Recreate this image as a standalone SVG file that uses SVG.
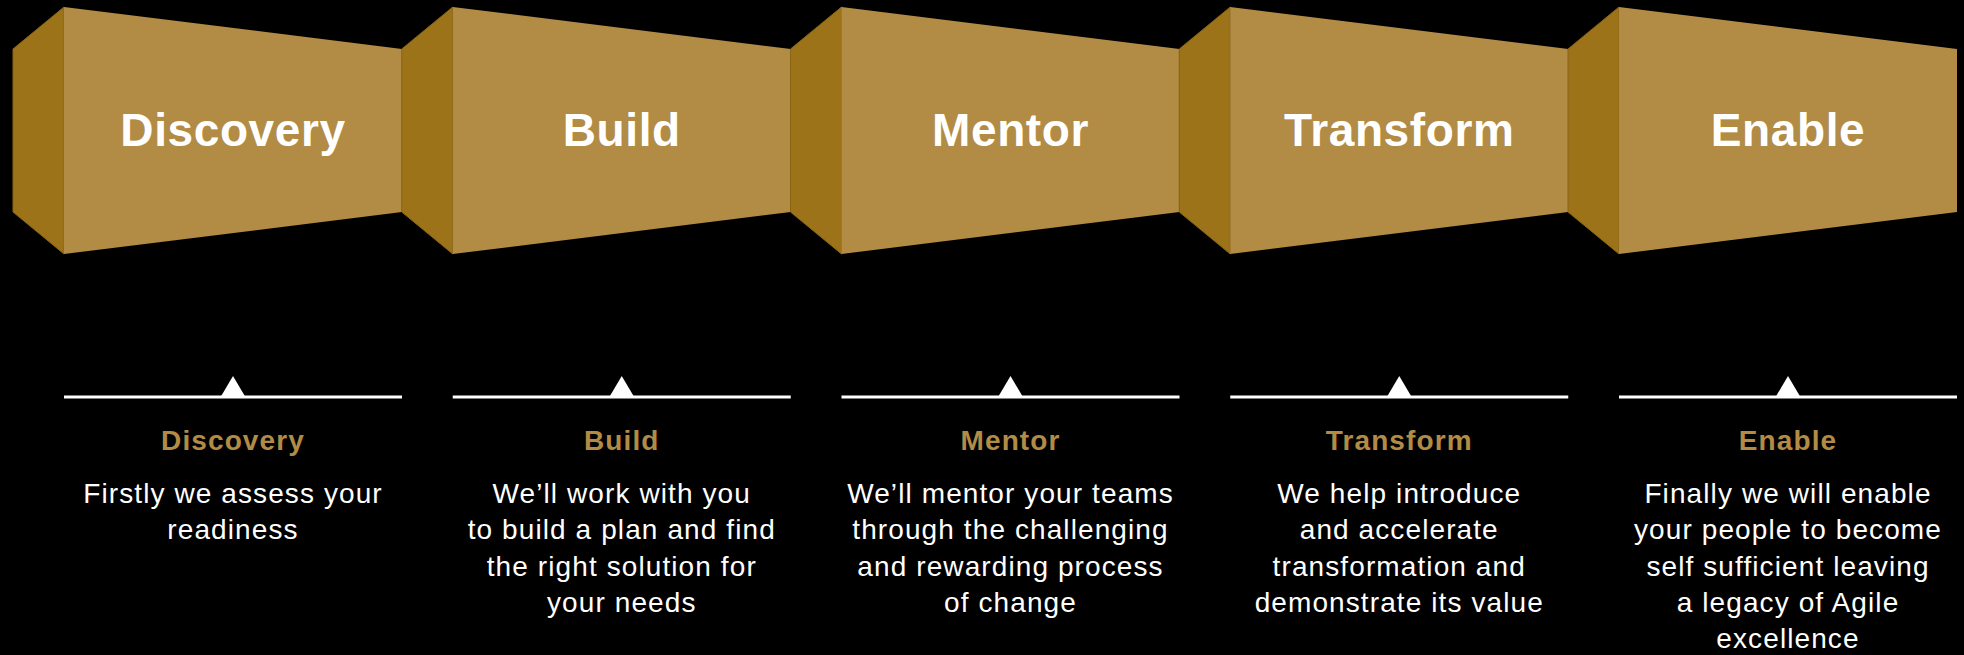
<svg xmlns="http://www.w3.org/2000/svg" width="1964" height="655" viewBox="0 0 1964 655">
<defs>
<style>
.side{fill:#9c7319;stroke:#8a6514;stroke-width:1}
.front{fill:#b28b45}
.ftxt{font-family:"Liberation Sans",Arial,sans-serif;font-weight:bold;font-size:46px;letter-spacing:0.6px;fill:#ffffff;text-anchor:middle}
.ttl{font-family:"Liberation Sans",Arial,sans-serif;font-weight:bold;font-size:28px;letter-spacing:1.1px;fill:#b28b45;text-anchor:middle}
.body{font-family:"Liberation Sans",Arial,sans-serif;font-size:28px;letter-spacing:1.1px;fill:#ffffff;text-anchor:middle}
.rule{stroke:#ffffff;stroke-width:3}
.tri{fill:#ffffff}
</style>
<g id="box">
<polygon class="side" points="13,49 64,7 64,254 13,212"/>
<polygon class="front" points="64,7 402,49 402,212 64,254"/>
</g>
<g id="marker">
<line class="rule" x1="64" y1="397" x2="402" y2="397"/>
<polygon class="tri" points="220,398 233,376 246,398"/>
</g>
</defs>
<rect width="1964" height="655" fill="#000000"/>
<g id="connectors">
<use href="#marker" x="0"/>
<use href="#marker" x="388.75"/>
<use href="#marker" x="777.5"/>
<use href="#marker" x="1166.25"/>
<use href="#marker" x="1555"/>
</g>
<g id="node-discovery">
<use href="#box" x="0"/>
<text class="ftxt" x="233" y="146">Discovery</text>
<text class="ttl" x="233" y="450">Discovery</text>
<text class="body" x="233" y="503">Firstly we assess your</text>
<text class="body" x="233" y="539">readiness</text>
</g>
<g id="node-build">
<use href="#box" x="388.75"/>
<text class="ftxt" x="621.75" y="146">Build</text>
<text class="ttl" x="621.75" y="450">Build</text>
<text class="body" x="621.75" y="503">We’ll work with you</text>
<text class="body" x="621.75" y="539">to build a plan and find</text>
<text class="body" x="621.75" y="576">the right solution for</text>
<text class="body" x="621.75" y="612">your needs</text>
</g>
<g id="node-mentor">
<use href="#box" x="777.5"/>
<text class="ftxt" x="1010.5" y="146">Mentor</text>
<text class="ttl" x="1010.5" y="450">Mentor</text>
<text class="body" x="1010.5" y="503">We’ll mentor your teams</text>
<text class="body" x="1010.5" y="539">through the challenging</text>
<text class="body" x="1010.5" y="576">and rewarding process</text>
<text class="body" x="1010.5" y="612">of change</text>
</g>
<g id="node-transform">
<use href="#box" x="1166.25"/>
<text class="ftxt" x="1399.25" y="146">Transform</text>
<text class="ttl" x="1399.25" y="450">Transform</text>
<text class="body" x="1399.25" y="503">We help introduce</text>
<text class="body" x="1399.25" y="539">and accelerate</text>
<text class="body" x="1399.25" y="576">transformation and</text>
<text class="body" x="1399.25" y="612">demonstrate its value</text>
</g>
<g id="node-enable">
<use href="#box" x="1555"/>
<text class="ftxt" x="1788" y="146">Enable</text>
<text class="ttl" x="1788" y="450">Enable</text>
<text class="body" x="1788" y="503">Finally we will enable</text>
<text class="body" x="1788" y="539">your people to become</text>
<text class="body" x="1788" y="576">self sufficient leaving</text>
<text class="body" x="1788" y="612">a legacy of Agile</text>
<text class="body" x="1788" y="648">excellence</text>
</g>
</svg>
